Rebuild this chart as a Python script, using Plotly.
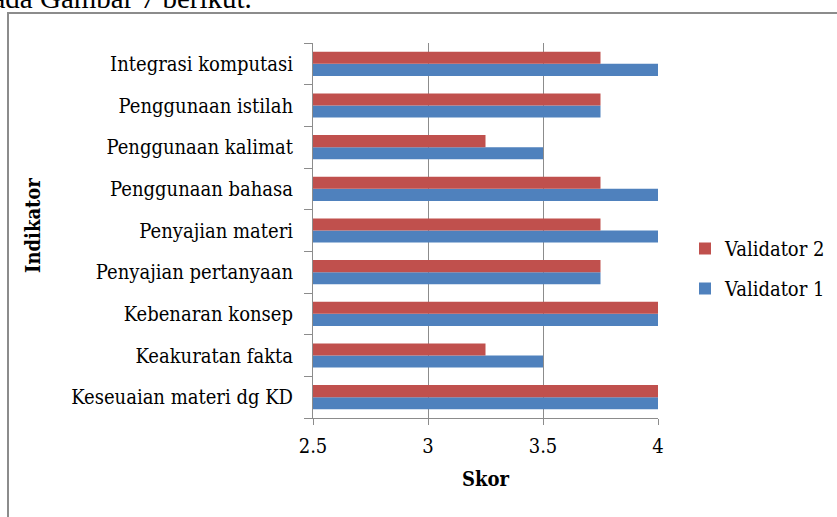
import plotly.graph_objects as go

categories = ["Keseuaian materi dg KD", "Keakuratan fakta", "Kebenaran konsep",
              "Penyajian pertanyaan", "Penyajian materi", "Penggunaan bahasa",
              "Penggunaan kalimat", "Penggunaan istilah", "Integrasi komputasi"]
validator1 = [4, 3.5, 4, 3.75, 4, 4, 3.5, 3.75, 4]
validator2 = [4, 3.25, 4, 3.75, 3.75, 3.75, 3.25, 3.75, 3.75]
x_ticks = [2.5, 3, 3.5, 4]
x_tick_labels = ["2.5", "3", "3.5", "4"]

W, H = 837, 517
L, R, T, B = 313, 658, 43, 418

def px(x):
    return (x - L) / (R - L)

def py(y):
    return (B - y) / (B - T)

FONT = "DejaVu Serif Condensed, DejaVu Serif"
FS = 20
GRAY = "#8c8c8c"

fig = go.Figure()
fig.add_trace(go.Bar(y=categories, x=validator1, orientation="h", name="Validator 1",
                     legendgroup="v1", legendrank=2,
                     marker=dict(color="#4F81BD", line=dict(width=0))))
fig.add_trace(go.Bar(y=categories, x=validator2, orientation="h", name="Validator 2",
                     legendgroup="v2", legendrank=1,
                     marker=dict(color="#C0504D", line=dict(width=0))))

fig.update_layout(
    width=W, height=H,
    margin=dict(l=L, r=W - R, t=T, b=H - B),
    paper_bgcolor="white", plot_bgcolor="white",
    barmode="group", bargap=0.42, bargroupgap=0,
    font=dict(family=FONT, size=FS, color="black"),
    showlegend=True,
    legend=dict(traceorder="grouped", xref="container", yref="container",
                x=685 / W, xanchor="left", y=1 - 268.5 / H, yanchor="middle",
                font=dict(family=FONT, size=FS, color="black"), itemwidth=30,
                tracegroupgap=11, bgcolor="rgba(0,0,0,0)"),
    xaxis=dict(range=[2.5, 4], tickvals=x_ticks, ticktext=x_tick_labels,
               showgrid=True, gridcolor=GRAY, gridwidth=1,
               showline=True, linecolor=GRAY, linewidth=1,
               ticks="outside", ticklen=6, tickcolor=GRAY,
               ticklabelstandoff=4,
               zeroline=False, fixedrange=True),
    yaxis=dict(type="category", categoryorder="array", categoryarray=categories,
               showgrid=False, showline=True, linecolor=GRAY, linewidth=1,
               ticks="outside", ticklen=8, tickcolor=GRAY, tickson="boundaries",
               ticklabelstandoff=15),
)

# axis titles
fig.add_annotation(xref="paper", yref="paper", x=px(485), y=py(479), xanchor="center", yanchor="middle",
                   text="<b>Skor</b>", showarrow=False, font=dict(family=FONT, size=FS, color="black"))
fig.add_annotation(xref="paper", yref="paper", x=px(33), y=py(226), xanchor="center", yanchor="middle",
                   text="<b>Indikator</b>", textangle=-90, showarrow=False,
                   font=dict(family=FONT, size=FS, color="black"))

# frame of the embedded chart (left and top edges visible)
fig.add_shape(type="line", xref="paper", yref="paper",
              x0=px(7), x1=px(840), y0=py(13), y1=py(13), line=dict(color=GRAY, width=2))
fig.add_shape(type="line", xref="paper", yref="paper",
              x0=px(8), x1=px(8), y0=py(12), y1=py(520), line=dict(color=GRAY, width=2))

# cut-off document text above the chart
fig.add_annotation(xref="paper", yref="paper", x=px(254), y=py(16), xanchor="right", yanchor="bottom",
                   text="pada Gambar 7 berikut.", showarrow=False,
                   font=dict(family="Liberation Serif", size=29, color="black"))

fig.write_html("out.html")
